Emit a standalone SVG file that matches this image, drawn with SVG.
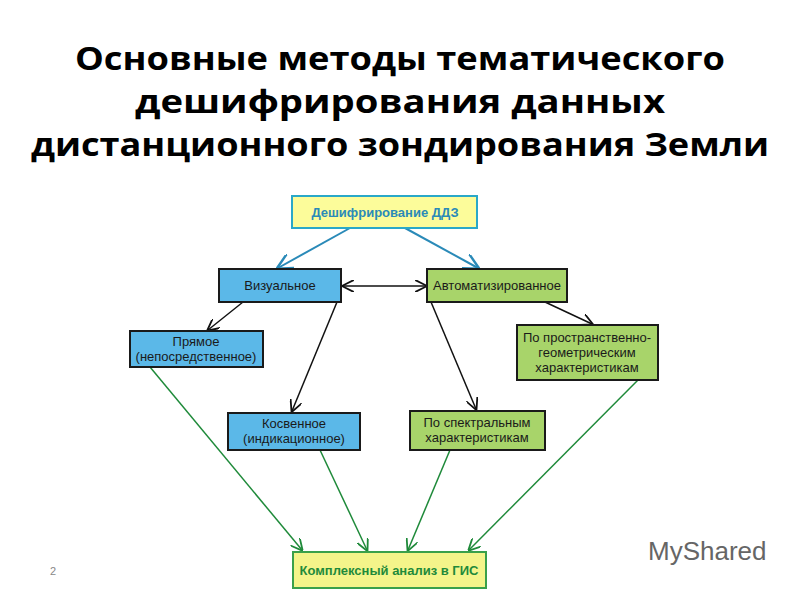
<svg xmlns="http://www.w3.org/2000/svg" width="800" height="600" viewBox="0 0 800 600">
<style>
.t{font-family:"Liberation Sans",Arial,sans-serif;font-size:13px;fill:#1a1a1a;text-anchor:middle}
.h{font-family:"Open Sans","Liberation Sans",sans-serif;font-weight:bold;font-size:32px;fill:#000;text-anchor:middle}
.b{fill:#5bb8e8;stroke:#1a1a1a;stroke-width:2}
.g{fill:#a8d46a;stroke:#1a1a1a;stroke-width:2}
.k{stroke:#111;stroke-width:1.5;fill:none}
.c{stroke:#2a8ab8;stroke-width:2;fill:none}
.e{stroke:#1f8a3a;stroke-width:1.5;fill:none}
</style>
<defs>
<marker id="ak" viewBox="0 0 10 10" refX="9" refY="5" markerWidth="8" markerHeight="8" orient="auto-start-reverse"><path d="M0,0L10,5L0,10" fill="none" stroke="#111" stroke-width="1.5"/></marker>
<marker id="ac" viewBox="0 0 10 10" refX="9" refY="5" markerWidth="8" markerHeight="8" orient="auto"><path d="M0,0L10,5L0,10" fill="none" stroke="#2a8ab8" stroke-width="1.5"/></marker>
<marker id="ae" viewBox="0 0 10 10" refX="9" refY="5" markerWidth="8" markerHeight="8" orient="auto"><path d="M0,0L10,5L0,10" fill="none" stroke="#1f8a3a" stroke-width="1.5"/></marker>
</defs>
<rect width="800" height="600" fill="#fff"/>
<text class="h" x="400" y="70" textLength="650" lengthAdjust="spacingAndGlyphs">Основные методы тематического</text>
<text class="h" x="400" y="113" textLength="530" lengthAdjust="spacingAndGlyphs">дешифрирования данных</text>
<text class="h" x="400" y="156" textLength="738" lengthAdjust="spacingAndGlyphs">дистанционного зондирования Земли</text>
<g id="connectors">
<line class="c" x1="350" y1="228" x2="278" y2="268" marker-end="url(#ac)"/>
<line class="c" x1="405" y1="228" x2="478" y2="268" marker-end="url(#ac)"/>
<line class="k" x1="343" y1="286" x2="426" y2="286" marker-start="url(#ak)" marker-end="url(#ak)"/>
<line class="k" x1="243" y1="302" x2="208" y2="330" marker-end="url(#ak)"/>
<line class="k" x1="337" y1="302" x2="292" y2="411" marker-end="url(#ak)"/>
<line class="k" x1="431" y1="302" x2="476" y2="409" marker-end="url(#ak)"/>
<line class="k" x1="545" y1="302" x2="592" y2="324" marker-end="url(#ak)"/>
<line class="e" x1="150" y1="367" x2="302" y2="550" marker-end="url(#ae)"/>
<line class="e" x1="320" y1="450" x2="367" y2="550" marker-end="url(#ae)"/>
<line class="e" x1="450" y1="450" x2="408" y2="550" marker-end="url(#ae)"/>
<line class="e" x1="638" y1="380" x2="469" y2="550" marker-end="url(#ae)"/>
</g>
<g id="root"><rect x="292" y="196" width="185" height="32" fill="#fcfc9a" stroke="#2aa8c8" stroke-width="2"/><text class="t" x="385" y="217" style="fill:#2a8ab8;font-weight:bold">Дешифрирование ДДЗ</text></g>
<g id="vis"><rect class="b" x="219" y="269" width="122" height="33"/><text class="t" x="280" y="290">Визуальное</text></g>
<g id="auto"><rect class="g" x="427" y="269" width="140" height="33"/><text class="t" x="497" y="290">Автоматизированное</text></g>
<g id="direct"><rect class="b" x="130" y="331" width="133" height="36"/><text class="t" x="196" y="346">Прямое</text><text class="t" x="196" y="361">(непосредственное)</text></g>
<g id="spatial"><rect class="g" x="517" y="325" width="141" height="55"/><text class="t" x="587" y="342">По пространственно-</text><text class="t" x="587" y="357">геометрическим</text><text class="t" x="587" y="372">характеристикам</text></g>
<g id="indirect"><rect class="b" x="228" y="413" width="132" height="37"/><text class="t" x="294" y="428">Косвенное</text><text class="t" x="294" y="443">(индикационное)</text></g>
<g id="spectral"><rect class="g" x="410" y="411" width="135" height="39"/><text class="t" x="477" y="427">По спектральным</text><text class="t" x="477" y="442">характеристикам</text></g>
<g id="gis"><rect x="293" y="552" width="193" height="36" fill="#f4f48a" stroke="#3aa04a" stroke-width="2"/><text class="t" x="389" y="575" style="fill:#1f8a3a;font-weight:bold">Комплексный анализ в ГИС</text></g>
<text x="50" y="575" style="font-family:'Liberation Sans',sans-serif;font-size:11px;fill:#888">2</text>
<text x="648" y="560" style="font-family:'Liberation Sans',sans-serif;font-size:26px;fill:#666">MyShared</text>
</svg>
